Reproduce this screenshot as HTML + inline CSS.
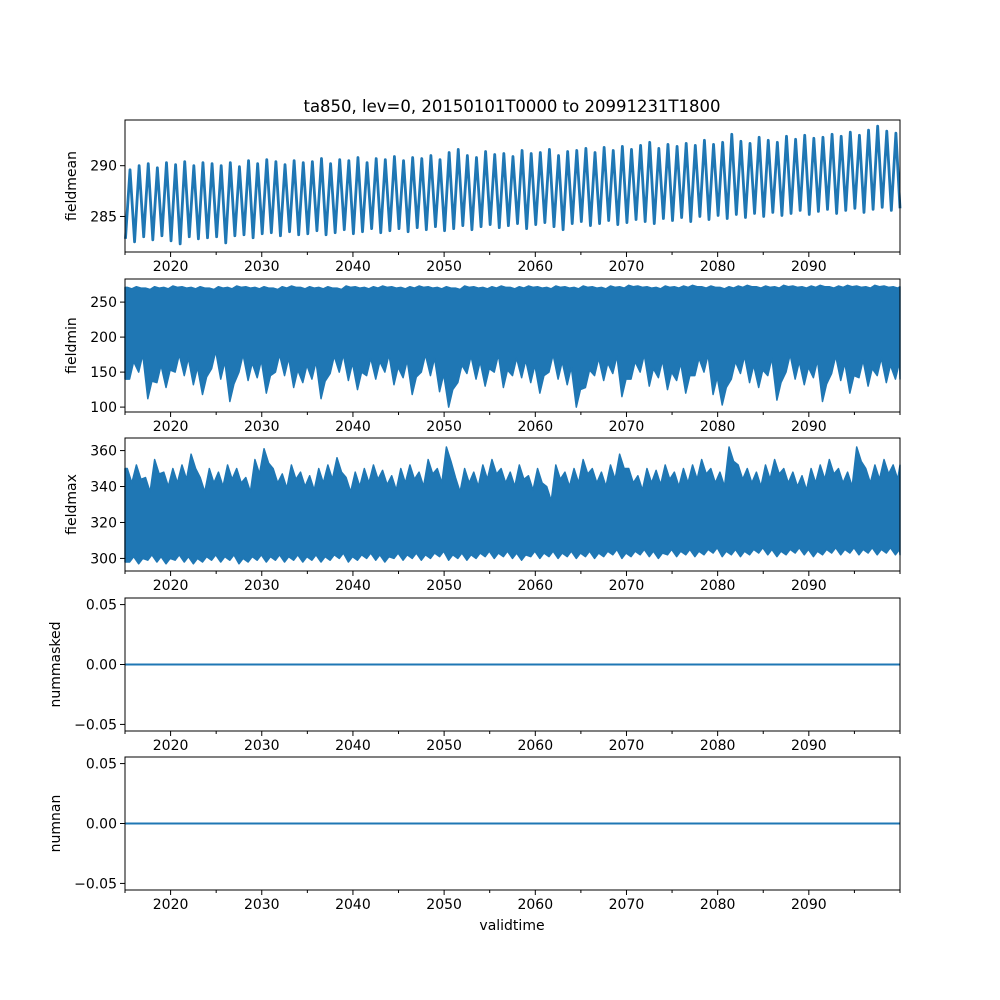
<!DOCTYPE html>
<html><head><meta charset="utf-8"><style>
html,body{margin:0;padding:0;background:#fff;}
svg{display:block;font-family:"DejaVu Sans","Liberation Sans",sans-serif;}
</style></head><body>
<svg id="chart" width="1000" height="1000" viewBox="0 0 1000 1000" xmlns="http://www.w3.org/2000/svg">
<rect width="1000" height="1000" fill="#fff"/>
<text x="512" y="112" font-size="16.5" text-anchor="middle">ta850, lev=0, 20150101T0000 to 20991231T1800</text>
<text x="512" y="930" font-size="14" text-anchor="middle">validtime</text>
</svg>
<script>
const xTickYears=[2020,2030,2040,2050,2060,2070,2080,2090];
const xMinorYears=[2015,2025,2035,2045,2055,2065,2075,2085,2095,2100];
const meanMax=[289.6,290.0,290.2,289.8,290.3,290.1,290.4,290.0,290.3,290.2,
290.0,290.3,289.9,290.5,290.2,290.6,290.4,290.1,290.5,290.3,
290.4,290.7,290.2,290.6,290.5,290.8,290.3,290.7,290.6,290.9,
290.5,290.8,290.7,291.0,290.6,291.3,291.6,291.0,290.8,291.4,
291.1,291.2,290.9,291.5,291.2,291.3,291.6,291.0,291.4,291.5,
291.7,291.3,291.8,291.5,291.9,291.6,292.0,292.3,291.7,292.1,
291.9,292.2,292.0,292.5,292.1,292.3,293.1,292.4,292.2,292.8,
292.5,292.3,292.9,292.6,293.0,292.7,292.8,293.1,292.9,293.3,
293.0,293.5,293.9,293.4,293.2];
const meanMin=[282.8,282.5,283.0,282.7,283.1,282.6,282.3,283.0,282.8,282.9,
283.0,282.4,283.1,283.2,282.9,283.3,283.4,283.1,283.5,283.2,
283.3,283.6,283.2,283.4,283.7,283.3,283.5,283.8,283.4,283.6,
283.8,283.5,283.9,283.7,284.0,283.6,283.8,284.1,283.7,284.0,
284.2,283.9,284.1,284.3,283.8,284.2,284.4,284.0,283.7,284.3,
284.5,284.1,284.3,284.6,284.2,284.4,284.7,284.5,284.3,284.8,
284.6,284.9,284.5,285.0,284.7,285.1,284.8,285.2,284.9,285.3,
285.0,285.4,285.1,285.3,285.6,285.2,285.5,285.7,285.3,285.6,
285.8,285.4,285.7,285.9,285.6];
const minLow=[140,150,112,135,128,150,145,132,118,155,
140,108,150,138,142,120,150,145,128,135,
140,112,148,150,138,125,145,140,150,132,
142,118,150,145,122,100,135,148,140,130,
150,128,145,142,135,120,150,140,132,100,
128,145,138,148,115,140,150,130,142,125,
138,120,145,150,118,103,140,148,135,128,
145,110,150,140,132,142,108,148,138,120,
142,130,145,135,140];
const minHigh=[271,272,270,272,271,273,272,271,272,270,
272,271,273,272,271,272,270,272,273,271,
272,271,272,270,273,272,271,272,273,272,
271,272,273,272,271,272,270,273,272,271,
272,273,271,272,273,272,271,273,272,271,
273,272,271,273,272,274,273,272,271,273,
272,273,274,272,273,271,272,273,274,272,
273,272,274,273,272,273,274,272,273,274,
273,272,274,273,272];
const maxHigh=[350,352,345,355,348,350,352,358,345,350,
348,352,350,345,355,361,350,347,352,348,
346,350,352,356,345,348,350,352,349,346,
350,352,348,355,350,362,345,350,348,352,
355,350,348,352,346,350,340,352,348,350,
355,350,348,352,358,350,346,350,349,352,
348,350,352,355,350,348,362,352,350,348,
352,355,350,348,346,350,352,355,350,348,
362,350,352,355,352];
const maxLow=[298,297,299,298,297,299,298,297,298,299,
298,299,297,298,299,298,299,298,299,298,
299,298,299,300,298,299,300,299,298,300,
299,300,299,300,301,299,300,299,300,301,
300,301,300,299,301,300,301,300,301,300,
301,300,301,302,300,301,302,301,300,302,
301,302,301,302,303,301,302,301,302,303,
302,301,302,303,302,301,302,303,302,303,
302,303,302,303,302];
const panels=[
 {name:"fieldmean",top:120,bot:252,ymin:281.5,ymax:294.5,ticks:[285,290],fmt:v=>String(v),lab:76},
 {name:"fieldmin",top:279,bot:412,ymin:93,ymax:283,ticks:[100,150,200,250],fmt:v=>String(v),lab:76},
 {name:"fieldmax",top:438,bot:571,ymin:293,ymax:367,ticks:[300,320,340,360],fmt:v=>String(v),lab:76},
 {name:"nummasked",top:598,bot:731,ymin:-0.0555,ymax:0.0555,ticks:[-0.05,0,0.05],fmt:v=>(v<0?"\u22120.05":v.toFixed(2)),lab:60},
 {name:"numnan",top:757,bot:890,ymin:-0.0555,ymax:0.0555,ticks:[-0.05,0,0.05],fmt:v=>(v<0?"\u22120.05":v.toFixed(2)),lab:60}
];
const NS="http://www.w3.org/2000/svg";
const svg=document.getElementById('chart');
const L=125,R=900,X0=2015,X1=2100;
const xs=t=>L+(t-X0)/(X1-X0)*(R-L);
const C="#1f77b4";
function mk(tag,attrs,parent){const e=document.createElementNS(NS,tag);for(const k in attrs)e.setAttribute(k,attrs[k]);(parent||svg).appendChild(e);return e;}
panels.forEach((p,pi)=>{
 const ys=v=>p.bot-(v-p.ymin)/(p.ymax-p.ymin)*(p.bot-p.top);
 const g=mk('g',{});
 
 
 if(pi===0){
  let pts=[];
  meanMax.forEach((v,i)=>{pts.push(xs(X0+i+0.05)+','+ys(meanMin[i]));pts.push(xs(X0+i+0.55)+','+ys(v));});
  pts.push(xs(X1)+','+ys(meanMin[0]+3));
  const l=mk('polyline',{points:pts.join(' '),fill:'none',stroke:C,'stroke-width':2.8,'stroke-linejoin':'round'},g);
  
  
 } else if(pi===1||pi===2){
  const hi=pi===1?minHigh:maxHigh, lo=pi===1?minLow:maxLow;
  let top=[],bot=[];
  hi.forEach((v,i)=>{top.push(xs(X0+i+0.25)+','+ys(v));top.push(xs(X0+i+0.75)+','+ys(v-(pi===1?2:8)));});
  lo.forEach((v,i)=>{bot.push(xs(X0+i+0.5)+','+ys(v));bot.push(xs(X0+i+0.95)+','+ys(v+(pi===1?25:3)));});
  const pts=[xs(X0)+','+ys(hi[0])].concat(top,[xs(X1)+','+ys(hi[hi.length-1]),xs(X1)+','+ys(lo[lo.length-1])],bot.reverse(),[xs(X0)+','+ys(lo[0])]);
  const b=mk('polygon',{points:pts.join(' '),fill:C,stroke:C,'stroke-width':1.5,'stroke-linejoin':'round'},g);
  
  
 } else {
  const l=mk('line',{x1:L,x2:R,y1:ys(0),y2:ys(0),stroke:C,'stroke-width':2},g);
  
  
 }
 const fr=mk('rect',{x:L,y:p.top,width:R-L,height:p.bot-p.top,fill:'none',stroke:'#000','stroke-width':1},g);
 
 
 p.ticks.forEach(v=>{
  const y=ys(v);
  mk('line',{x1:L-5,x2:L,y1:y,y2:y,stroke:'#000','stroke-width':1},g);
  const t=mk('text',{x:L-8,y:y+5,'font-size':14,'text-anchor':'end'},g);
  t.textContent=p.fmt(v);
  
  
 });
 const yl=mk('text',{x:p.lab,y:(p.top+p.bot)/2,'font-size':14,'text-anchor':'middle',transform:'rotate(-90 '+p.lab+' '+(p.top+p.bot)/2+')'},g);
 yl.textContent=p.name;
 
 
 xTickYears.forEach(yr=>{
  const x=xs(yr);
  mk('line',{x1:x,x2:x,y1:p.bot,y2:p.bot+5,stroke:'#000','stroke-width':1},g);
  const t=mk('text',{x:x,y:p.bot+19,'font-size':14,'text-anchor':'middle'},g);
  t.textContent=yr;
  
  
 });
 xMinorYears.forEach(yr=>{const x=xs(yr);mk('line',{x1:x,x2:x,y1:p.bot,y2:p.bot+3,stroke:'#000','stroke-width':1},g);});
});
</script>
</body></html>
